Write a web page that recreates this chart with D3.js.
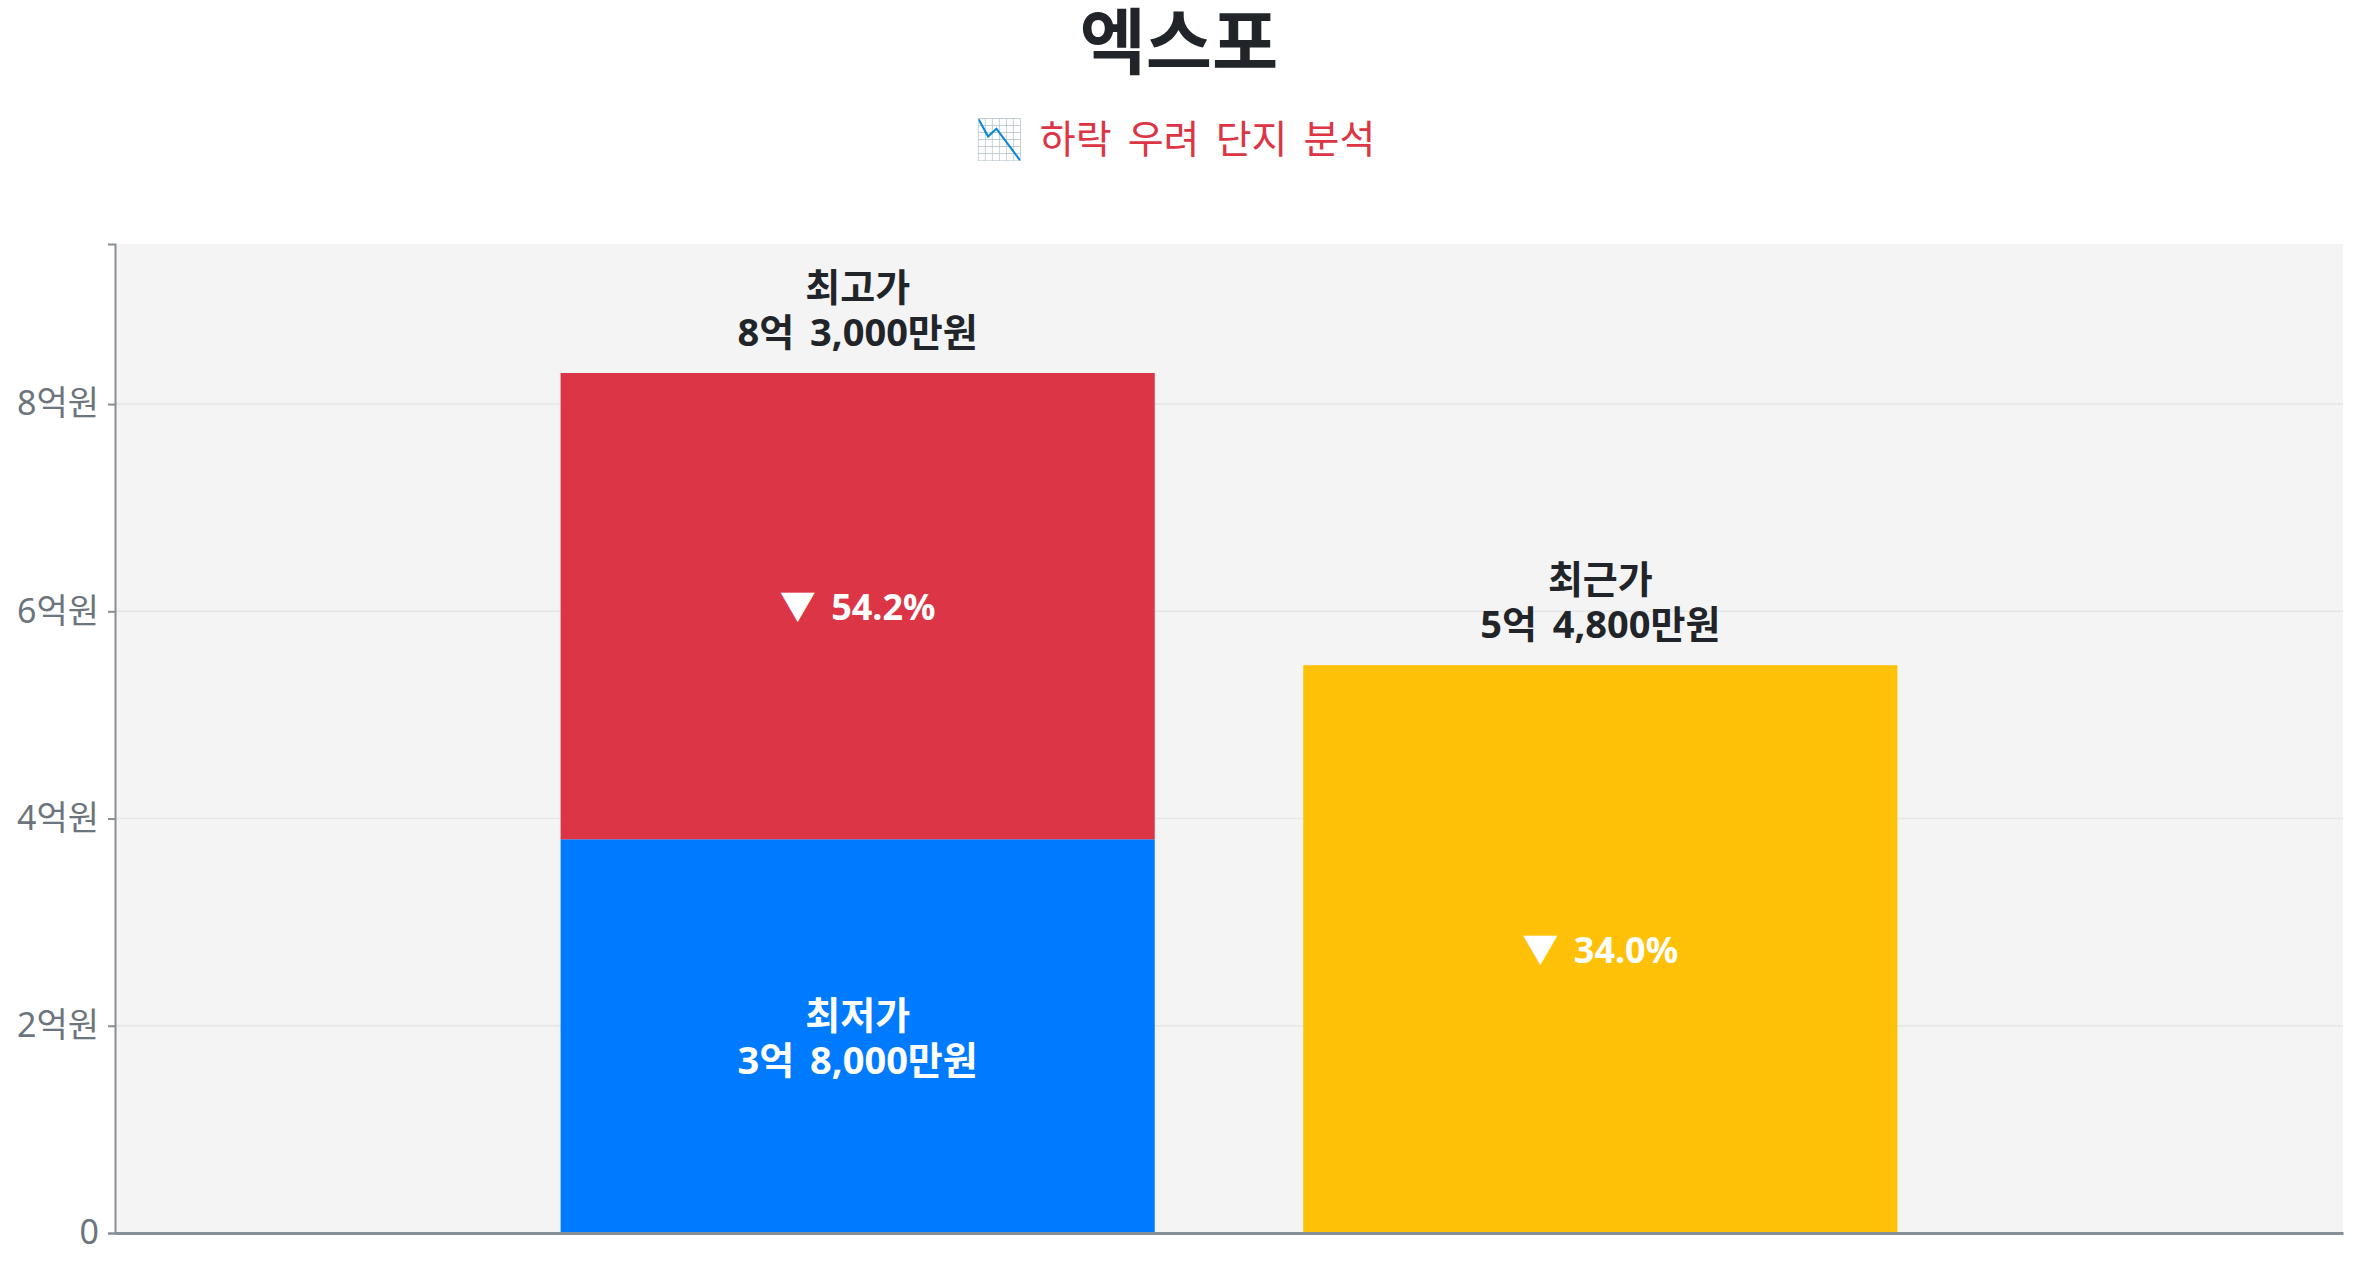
<!DOCTYPE html>
<html lang="ko">
<head>
<meta charset="utf-8">
<script src="https://cdn.jsdelivr.net/npm/d3@7"></script>
<style>
  html, body { margin: 0; padding: 0; background: #fff; }
  svg { display: block; font-family: "Noto Sans", "Noto Sans CJK KR", sans-serif; }
</style>
</head>
<body>
<svg id="chart" width="2358" height="1268"></svg>
<script>
// values in 만원
const complexName = "엑스포";
const subtitle = "📉 하락 우려 단지 분석";
const slots = ["최고·최저", "최근가"];
const highPrice = 83000;
const lowPrice = 38000;
const recentPrice = 54800;
const dropRates = [54.2, 34.0]; // 최고가 대비 최저가, 최고가 대비 최근가
const yTicks = [0, 20000, 40000, 60000, 80000];

const colors = { high: "#dc3545", low: "#007bff", recent: "#ffc107" };

const W = 2358, H = 1268;
const margin = { top: 244, right: 15, bottom: 35, left: 115 };
const plotW = W - margin.left - margin.right;
const plotH = H - margin.top - margin.bottom;

function won(v) {
  const eok = Math.floor(v / 10000);
  const man = v % 10000;
  let s = "";
  if (eok) s += eok + "억";
  if (man) s += (s ? " " : "") + d3.format(",")(man) + "만원";
  else s += "원";
  return s;
}

const svg = d3.select("#chart");

svg.append("text")
  .attr("x", W / 2).attr("y", 40)
  .attr("text-anchor", "middle").attr("dominant-baseline", "central")
  .attr("font-size", 72).attr("font-weight", 700).attr("fill", "#212529")
  .text(complexName);

svg.append("text")
  .attr("x", W / 2 - 4).attr("y", 137)
  .attr("text-anchor", "middle").attr("dominant-baseline", "central")
  .attr("font-size", 39).attr("fill", "#dc3545")
  .style("word-spacing", "6px")
  .text(subtitle);

const g = svg.append("g").attr("transform", `translate(${margin.left},${margin.top})`);

const x = d3.scaleBand().domain(slots).range([0, plotW]).paddingInner(0.2).paddingOuter(0.6);
const y = d3.scaleLinear().domain([0, highPrice * 1.15]).range([plotH, 0]);

g.append("rect")
  .attr("width", plotW).attr("height", plotH)
  .attr("fill", "#f4f4f4");

// grid
g.append("g")
  .selectAll("line")
  .data(yTicks.filter(d => d > 0))
  .join("line")
  .attr("x1", 0).attr("x2", plotW)
  .attr("y1", d => y(d)).attr("y2", d => y(d))
  .attr("stroke", "#e6e6e6").attr("stroke-width", 1.5);

// bars
const segments = [
  { slot: slots[0], y0: 0, y1: lowPrice, fill: colors.low },
  { slot: slots[0], y0: lowPrice, y1: highPrice, fill: colors.high },
  { slot: slots[1], y0: 0, y1: recentPrice, fill: colors.recent }
];

g.append("g")
  .selectAll("rect")
  .data(segments)
  .join("rect")
  .attr("x", d => x(d.slot))
  .attr("width", x.bandwidth())
  .attr("y", d => y(d.y1))
  .attr("height", d => y(d.y0) - y(d.y1))
  .attr("fill", d => d.fill);

// axes
const yAxis = d3.axisLeft(y).tickValues(yTicks)
  .tickFormat(d => d === 0 ? "0" : (d / 10000) + "억원")
  .tickSize(7).tickPadding(9);

const ya = g.append("g").call(yAxis);
ya.select(".domain").attr("stroke", "#868e96").attr("stroke-width", 2);
ya.selectAll(".tick line").attr("stroke", "#868e96").attr("stroke-width", 2);
ya.selectAll(".tick text")
  .attr("fill", "#6c757d").attr("font-size", 34)
  .attr("font-family", "\"Noto Sans\", \"Noto Sans CJK KR\", sans-serif");

const xa = g.append("g").attr("transform", `translate(0,${plotH})`)
  .call(d3.axisBottom(x).tickSize(0).tickFormat(""));
xa.select(".domain").attr("stroke", "#868e96").attr("stroke-width", 3);

// labels
const cx = s => x(s) + x.bandwidth() / 2;
const lh = 45;

const labels = [
  { x: cx(slots[0]), y: y(highPrice) - 42 - lh, t: "최고가", c: "#212529", s: 38 },
  { x: cx(slots[0]), y: y(highPrice) - 42, t: won(highPrice), c: "#212529", s: 38 },
  { x: cx(slots[1]), y: y(recentPrice) - 42 - lh, t: "최근가", c: "#212529", s: 38 },
  { x: cx(slots[1]), y: y(recentPrice) - 42, t: won(recentPrice), c: "#212529", s: 38 },
  { x: cx(slots[0]), y: y(lowPrice / 2) - lh / 2, t: "최저가", c: "#fff", s: 38 },
  { x: cx(slots[0]), y: y(lowPrice / 2) + lh / 2, t: won(lowPrice), c: "#fff", s: 38 },
  { x: cx(slots[0]), y: y((lowPrice + highPrice) / 2), t: "▼ " + dropRates[0].toFixed(1) + "%", c: "#fff", s: 36 },
  { x: cx(slots[1]), y: y(recentPrice / 2), t: "▼ " + dropRates[1].toFixed(1) + "%", c: "#fff", s: 36 }
];

g.append("g")
  .selectAll("text")
  .data(labels)
  .join("text")
  .attr("x", d => d.x).attr("y", d => d.y)
  .attr("text-anchor", "middle").attr("dominant-baseline", "central")
  .attr("font-size", d => d.s).attr("font-weight", 700)
  .attr("fill", d => d.c)
  .style("word-spacing", "6px")
  .text(d => d.t);
</script>
</body>
</html>
